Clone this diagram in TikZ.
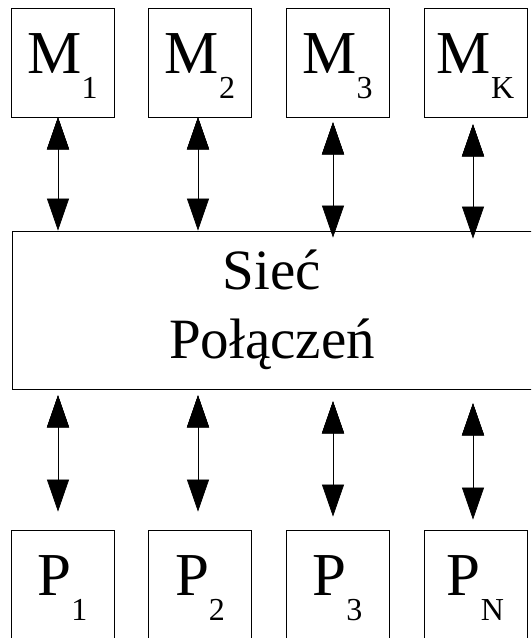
\documentclass[tikz,border=0pt]{standalone}
\usepackage{fontspec}
\setmainfont{Liberation Serif}
\usepackage{tikz}
\usetikzlibrary{shapes,arrows.meta}

\newcommand{\lowidx}[1]{\raisebox{-25pt}{\fontsize{32}{38}\selectfont #1}}
\tikzset{
  unit/.style={shape=rectangle,draw=black,align=center,line width=0.8pt,inner sep=0pt,
    minimum width=103pt,minimum height=109pt,text height=47pt,font=\fontsize{61}{72}\selectfont},
  net/.style={shape=rectangle,draw=black,align=center,line width=0.8pt,inner sep=0pt,
    minimum width=520pt,minimum height=158pt,font=\fontsize{57}{69}\selectfont},
  link/.style={{Triangle[length=32pt,width=22pt]}-{Triangle[length=32pt,width=22pt]},draw=black,line width=0.7pt}
}

\begin{document}
\begin{tikzpicture}[x=1pt,y=-1pt]
\useasboundingbox (0,0) rectangle (531,638);
\clip (0,0) rectangle (531,638);
\node[unit] (m1) at (62.5,62.5) {M\lowidx{1}};
\node[unit] (m2) at (200,62.5) {M\lowidx{2}};
\node[unit] (m3) at (337.5,62.5) {M\lowidx{3}};
\node[unit] (mk) at (475.5,62.5) {M\lowidx{K}};

\node[net] (siec) at (272,310) {Sieć\\Połączeń};

\node[unit] (p1) at (62.5,584.5) {P\lowidx{1}};
\node[unit] (p2) at (200,584.5) {P\lowidx{2}};
\node[unit] (p3) at (337.5,584.5) {P\lowidx{3}};
\node[unit] (pn) at (475.5,584.5) {P\lowidx{N}};

% memory side
\path [link] ([xshift=-4.5pt]m1.south) edge ([xshift=-4.5pt]m1.south |- siec.north);
\path [link] ([xshift=-2pt]m2.south) edge ([xshift=-2pt]m2.south |- siec.north);
\path [link] ([xshift=-4.5pt,yshift=-5pt]m3.south) edge ([xshift=-4.5pt,yshift=-7pt]m3.south |- siec.north);
\path [link] ([xshift=-2.5pt,yshift=-7pt]mk.south) edge ([xshift=-2.5pt,yshift=-8pt]mk.south |- siec.north);

% processor side
\path [link] ([xshift=-4.5pt,yshift=-6pt]p1.north |- siec.south) edge ([xshift=-4.5pt,yshift=18pt]p1.north);
\path [link] ([xshift=-2pt,yshift=-6pt]p2.north |- siec.south) edge ([xshift=-2pt,yshift=18pt]p2.north);
\path [link] ([xshift=-4.5pt,yshift=-12pt]p3.north |- siec.south) edge ([xshift=-4.5pt,yshift=13pt]p3.north);
\path [link] ([xshift=-2.5pt,yshift=-14pt]pn.north |- siec.south) edge ([xshift=-2.5pt,yshift=10pt]pn.north);
\end{tikzpicture}
\end{document}
